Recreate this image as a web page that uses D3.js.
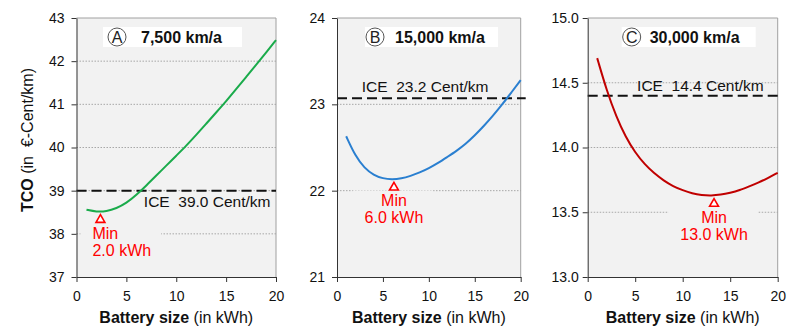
<!DOCTYPE html>
<html><head><meta charset="utf-8">
<script src="https://cdn.jsdelivr.net/npm/d3@7/dist/d3.min.js"></script>
<style>
body{margin:0;background:#fff}
svg text{font-family:"Liberation Sans",Arial,sans-serif}
</style>
</head><body>
<svg id="chart" width="800" height="331"></svg>
<script>
// ---------- data ----------
const battery = [1,2,3,4,5,6,7,8,9,10,11,12,13,14,15,16,17,18,19,20];
const tcoA = [38.56,38.51,38.52,38.59,38.71,38.90,39.12,39.35,39.58,39.81,40.04,40.29,40.55,40.81,41.07,41.35,41.63,41.91,42.20,42.49];
const tcoB = [22.63,22.40,22.26,22.18,22.14,22.13,22.14,22.17,22.21,22.26,22.32,22.39,22.46,22.54,22.64,22.75,22.87,23.00,23.14,23.28];
const tcoC = [14.69,14.44,14.24,14.08,13.96,13.87,13.80,13.745,13.70,13.67,13.645,13.632,13.628,13.635,13.65,13.67,13.70,13.73,13.765,13.805];
const series = [tcoA, tcoB, tcoC];
const iceValues = [39.0, 23.07, 14.4];
const iceLabels = ["ICE  39.0 Cent/km", "ICE  23.2 Cent/km", "ICE  14.4 Cent/km"];
const panelLetters = ["A", "B", "C"];
const panelTitles = ["7,500 km/a", "15,000 km/a", "30,000 km/a"];
const minBattery = [2.4, 6.2, 13.3];
const minLabels = ["2.0 kWh", "6.0 kWh", "13.0 kWh"];
const yTicksA = [37,38,39,40,41,42,43];
const yTicksB = [21,22,23,24];
const yTicksC = [13.0,13.5,14.0,14.5,15.0];
const yTicks = [yTicksA, yTicksB, yTicksC];
const yFormats = ["d", "d", ".1f"];
const xTicks = [0,5,10,15,20];
const xDomain = [0, 20];

// ---------- layout / style ----------
const colors = ["#1aab4b", "#2a7fd0", "#c00000"];
const panels = [
  {x0:76.5, x1:276,   boxOff:26.5, boxW:139, circOff:14, textOff:38, iceX:6.75, iceDy:16,  tickPad:7},
  {x0:337,  x1:520.7, boxOff:28,   boxW:133, circOff:10, textOff:30, iceX:2.7,  iceDy:-6,  tickPad:7},
  {x0:587.7,x1:777.7, boxOff:34,   boxW:134, circOff:10, textOff:28, iceX:5.2,  iceDy:-5,  tickPad:4}
];
const y0 = 18, y1 = 277;
const svg = d3.select("#chart");

panels.forEach((p, i) => {
  const g = svg.append("g");
  const x = d3.scaleLinear().domain(xDomain).range([p.x0, p.x1]);
  const yt = yTicks[i];
  const y = d3.scaleLinear().domain([yt[0], yt[yt.length-1]]).range([y1, y0]);
  const data = battery.map((b, k) => [b, series[i][k]]);

  // plot background
  g.append("rect").attr("x", p.x0).attr("y", y0).attr("width", p.x1 - p.x0).attr("height", y1 - y0)
    .attr("fill", "#f2f2f2");
  // gridlines
  g.selectAll(".grid").data(yt.slice(1, -1)).enter().append("line")
    .attr("x1", p.x0).attr("x2", p.x1).attr("y1", d => y(d)).attr("y2", d => y(d))
    .attr("stroke", "#a8a8a8").attr("stroke-width", 1).attr("stroke-dasharray", "1.5,1.5");
  // top and right border
  g.append("path").attr("d", `M${p.x0},${y0}H${p.x1}V${y1}`).attr("fill", "none")
    .attr("stroke", "#a0a0a0").attr("stroke-width", 1);

  // Min label with background
  const minY = y(d3.min(series[i]));
  const mx = x(minBattery[i]);
  const ty = minY + 8;
  const anchor = i === 0 ? "start" : "middle";
  const tx = i === 0 ? mx - 8 : mx;
  const mg = g.append("g");
  const mt = mg.append("text").attr("x", tx).attr("y", ty + 19).attr("text-anchor", anchor)
    .attr("font-size", 16).attr("fill", "#ff0000");
  mt.append("tspan").attr("x", tx).text("Min");
  mt.append("tspan").attr("x", tx).attr("dy", 17).text(minLabels[i]);
  const bb = mt.node().getBBox();
  const bx0 = Math.max(p.x0 + 0.5, bb.x - 12), bx1 = Math.min(p.x1 - 0.5, bb.x + bb.width + 10);
  mg.insert("rect", "text").attr("x", bx0).attr("y", bb.y - 2).attr("width", bx1 - bx0).attr("height", bb.height + 2)
    .attr("fill", "#f2f2f2");
  g.append("path").attr("d", d3.symbol().type(d3.symbolTriangle).size(34)())
    .attr("transform", `translate(${mx},${ty})`)
    .attr("fill", "#fff").attr("stroke", "#ff0000").attr("stroke-width", 1.6);

  // title box
  const bxl = p.x0 + p.boxOff;
  g.append("rect").attr("x", bxl).attr("y", 27).attr("width", p.boxW).attr("height", 20).attr("fill", "#fff");
  g.append("circle").attr("cx", bxl + p.circOff).attr("cy", 37).attr("r", 9)
    .attr("fill", "#fff").attr("stroke", "#555").attr("stroke-width", 1);
  g.append("text").attr("x", bxl + p.circOff).attr("y", 43).attr("text-anchor", "middle")
    .attr("font-size", 16).attr("fill", "#222").text(panelLetters[i]);
  g.append("text").attr("x", bxl + p.textOff).attr("y", 43)
    .attr("font-size", 16).attr("font-weight", "bold").attr("fill", "#111").text(panelTitles[i]);

  // ICE reference line
  const iy = y(iceValues[i]);
  g.append("line").attr("x1", p.x0).attr("x2", p.x1 + (i === 1 ? 5 : 0)).attr("y1", iy).attr("y2", iy)
    .attr("stroke", "#111").attr("stroke-width", 2).attr("stroke-dasharray", "10,5");
  g.append("text").attr("x", x(p.iceX)).attr("y", iy + p.iceDy)
    .attr("font-size", 15.5).attr("fill", "#111").style("white-space", "pre").text(iceLabels[i]);

  // curve
  g.append("path").datum(data)
    .attr("d", d3.line().x(d => x(d[0])).y(d => y(d[1])).curve(d3.curveBasis))
    .attr("fill", "none").attr("stroke", colors[i]).attr("stroke-width", 2);

  // axes
  const ya = g.append("g").attr("transform", `translate(${p.x0},0)`)
    .call(d3.axisLeft(y).tickValues(yt).tickFormat(d3.format(yFormats[i])).tickSize(5).tickPadding(p.tickPad).tickSizeOuter(0));
  const xa = g.append("g").attr("transform", `translate(0,${y1})`)
    .call(d3.axisBottom(x).tickValues(xTicks).tickSize(5).tickPadding(9).tickSizeOuter(0));
  [ya, xa].forEach(a => {
    a.select(".domain").attr("stroke", "#333");
    a.selectAll(".tick line").attr("stroke", "#333");
    a.selectAll("text").attr("font-size", 14).attr("fill", "#111")
      .style("font-family", '"Liberation Sans",Arial,sans-serif');
  });

  // x axis title
  const xt = g.append("text").attr("x", (p.x0 + p.x1) / 2).attr("y", 323).attr("text-anchor", "middle")
    .attr("font-size", 16).attr("fill", "#111");
  xt.append("tspan").attr("font-weight", "bold").text("Battery size");
  xt.append("tspan").text(" (in kWh)");

  if (i === 0) {
    const yl = g.append("text").attr("transform", `translate(33,140) rotate(-90)`).attr("text-anchor", "middle")
      .attr("font-size", 16).attr("fill", "#111").style("white-space", "pre");
    yl.append("tspan").attr("font-weight", "bold").text("TCO");
    yl.append("tspan").text(" (in  €-Cent/km)");
  }
});
</script>
</body></html>
